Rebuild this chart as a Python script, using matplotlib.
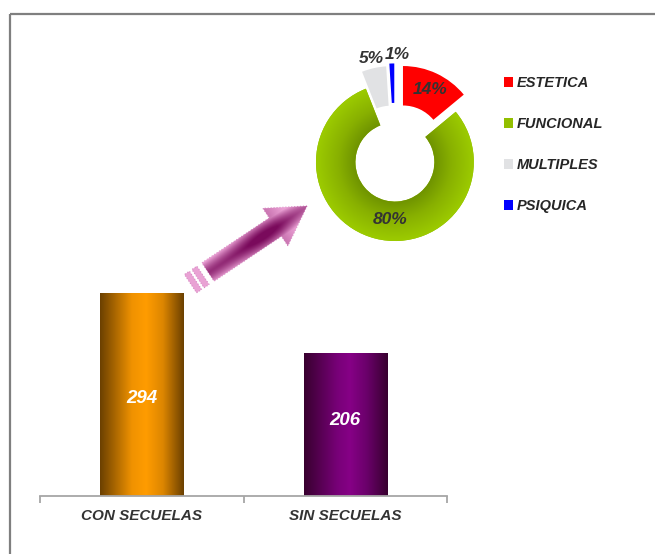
import numpy as np
import matplotlib
matplotlib.use('Agg')
import matplotlib.pyplot as plt
from matplotlib.colors import LinearSegmentedColormap, to_rgb
from matplotlib.patches import FancyArrow, Polygon

plt.rcParams['font.family'] = ['Liberation Sans', 'DejaVu Sans']

# datos
categorias = ['CON SECUELAS', 'SIN SECUELAS']
pacientes = [294, 206]

tipos = ['ESTETICA', 'FUNCIONAL', 'MULTIPLES', 'PSIQUICA']
porcentajes = [14, 80, 5, 1]
colores_tipo = ['#ff0000', '#92bf00', '#e1e2e4', '#0000ff']
separacion = [0.24, 0.0, 0.22, 0.25]

fig = plt.figure(figsize=(6.55, 5.54), dpi=100)

# capa de fondo en pixeles (marco y flecha)
ov = fig.add_axes([0, 0, 1, 1], zorder=0)
ov.set_xlim(0, 655)
ov.set_ylim(554, 0)
ov.axis('off')
ov.plot([9.5, 9.5], [554, 14], color='#7f7f7f', lw=1.6, solid_capstyle='butt')
ov.plot([9.5, 655], [14, 14], color='#7f7f7f', lw=1.6, solid_capstyle='butt')

# flecha
tail = np.array([208.0, 272.0])
tip = np.array([307.0, 206.0])
d = tip - tail
L = np.hypot(*d)
u = d / L
n = np.array([-u[1], u[0]])
arrow = FancyArrow(tail[0], tail[1], d[0], d[1], width=22, head_width=45,
                   head_length=38, length_includes_head=True,
                   facecolor='none', edgecolor='#d889c4', lw=0.8, ls=':')
ov.add_patch(arrow)
x0, x1, y0, y1 = 185, 325, 185, 300
gx, gy = np.meshgrid(np.arange(x0, x1), np.arange(y0, y1))
px = gx - tail[0]
py = gy - tail[1]
along = (px * u[0] + py * u[1]) / L
perp = np.abs(px * n[0] + py * n[1])
t = np.clip(0.25 + 0.75 * np.clip(perp / 11, 0, 1) ** 1.5
            + 0.5 * np.clip(along - 0.7, 0, 1) * 2
            - 0.35 * np.exp(-((along - 0.55) / 0.25) ** 2), 0, 1)
dark = np.array(to_rgb('#7a0a5c'))
light = np.array(to_rgb('#e99fd3'))
img = dark[None, None, :] * (1 - t[..., None]) + light[None, None, :] * t[..., None]
im = ov.imshow(img, extent=(x0, x1, y1, y0), origin='upper', aspect='auto',
               interpolation='bilinear', zorder=1)
im.set_clip_path(arrow)
for a, b in [(-12, -6), (-21, -15)]:
    pts = [tail + u * a + n * 11, tail + u * b + n * 11,
           tail + u * b - n * 11, tail + u * a - n * 11]
    ov.add_patch(Polygon(pts, closed=True, facecolor='#e9a2d4',
                         edgecolor='#d889c4', lw=0.8, ls=':', zorder=2))
ov.set_xlim(0, 655)
ov.set_ylim(554, 0)

# barras
ax = fig.add_axes([40 / 655, 58 / 554, 407 / 655, 241.5 / 554], zorder=1)
ax.patch.set_alpha(0)
x = np.arange(len(categorias))
bars = ax.bar(x, pacientes, width=0.41, color='none')
mapas = [
    LinearSegmentedColormap.from_list('nar', [(0, '#6b4000'), (0.38, '#f09200'),
                                              (0.55, '#ff9c00'), (0.75, '#dd8600'),
                                              (1, '#6b4000')]),
    LinearSegmentedColormap.from_list('mor', [(0, '#38002f'), (0.4, '#780078'),
                                              (0.55, '#860086'), (0.75, '#6a006a'),
                                              (1, '#38002f')]),
]
grad = np.linspace(0, 1, 256)[None, :]
desplaz = [-0.02, 0.03]  # posicion vertical de la etiqueta (fraccion de alto)
for b, cm, v, dv in zip(bars, mapas, pacientes, desplaz):
    ax.imshow(grad, cmap=cm, aspect='auto', zorder=2,
              extent=[b.get_x(), b.get_x() + b.get_width(), 0, b.get_height()])
    ax.text(b.get_x() + b.get_width() / 2, b.get_height() * (0.5 + dv), str(v),
            ha='center', va='center', color='white', fontsize=13.5,
            fontweight='bold', fontstyle='italic', zorder=3)
ax.set_xlim(-0.5, 1.5)
ax.set_ylim(0, 350)
for s in ['top', 'right', 'left']:
    ax.spines[s].set_visible(False)
ax.spines['bottom'].set_color('#a6a6a6')
ax.spines['bottom'].set_linewidth(1.3)
ax.set_yticks([])
ax.set_xticks(x, categorias, fontsize=11, fontweight='bold',
              fontstyle='italic', color='#333333')
ax.tick_params(axis='x', which='major', length=0, pad=9)
ax.set_xticks([-0.5, 0.5, 1.5], minor=True)
ax.tick_params(axis='x', which='minor', length=5, width=1.3, color='#a6a6a6')

# dona
axp = fig.add_axes([284.4 / 655, 281.4 / 554, 221 / 655, 221 / 554], zorder=2)
wedges, _ = axp.pie(porcentajes, colors=colores_tipo, startangle=90,
                    counterclock=False, explode=separacion,
                    wedgeprops=dict(width=0.5, linewidth=0))

# sombreado radial del verde
gx2, gy2 = np.meshgrid(np.linspace(-1, 1, 300), np.linspace(-1, 1, 300))
rr = np.hypot(gx2, gy2)
verde = LinearSegmentedColormap.from_list('ver', [(0, '#6b8e00'), (0.5, '#6f9300'),
                                                  (0.72, '#88b000'), (1, '#9ccb00')])
imv = axp.imshow(rr, cmap=verde, vmin=0, vmax=1, extent=[-1, 1, -1, 1],
                 origin='lower', zorder=2)
imv.set_clip_path(wedges[1])
axp.set_xlim(-1.4, 1.4)
axp.set_ylim(-1.4, 1.4)
axp.set_aspect('equal')
axp.axis('off')

ajuste = [(0.02, 0.02), (0.12, 0.0), (0.0, -0.04), (0.08, -0.04)]
for w, p, (ox, oy) in zip(wedges, porcentajes, ajuste):
    ang = np.deg2rad((w.theta1 + w.theta2) / 2)
    dist = 0.75 if p > 10 else 1.16
    cx, cy = w.center
    axp.text(cx + dist * np.cos(ang) + ox, cy + dist * np.sin(ang) + oy, f'{p}%',
             ha='center', va='center', fontsize=12.5, fontweight='bold',
             fontstyle='italic', color='#333333', zorder=4)

leg = axp.legend(wedges, tipos, loc='upper left',
                 bbox_to_anchor=(491 / 655, 1 - 63 / 554),
                 bbox_transform=fig.transFigure, frameon=False,
                 prop=dict(weight='bold', style='italic', size=10.5),
                 handlelength=0.62, handleheight=0.62, handletextpad=0.25,
                 labelspacing=1.85)
for txt in leg.get_texts():
    txt.set_color('#262626')

fig.savefig('out.png', dpi=100)
